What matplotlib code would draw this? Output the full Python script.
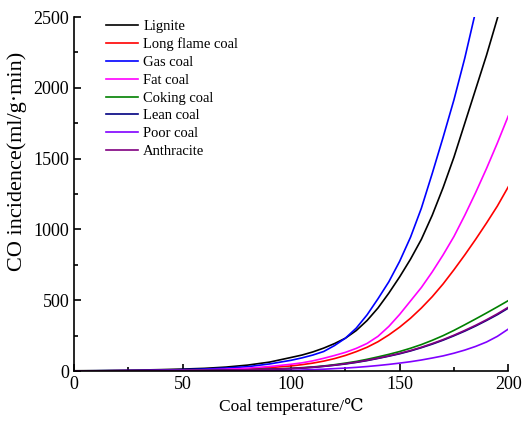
# CO incidence of eight coal ranks vs coal temperature
import matplotlib.pyplot as plt
from matplotlib.ticker import MultipleLocator

plt.rcParams['font.family'] = ['Liberation Serif', 'DejaVu Serif']

# temperature steps: every 10 up to 100, then every 5
temp = [0, 10, 20, 30, 40, 50, 60, 70, 80, 90,
        100, 105, 110, 115, 120, 125, 130, 135, 140, 145, 150,
        155, 160, 165, 170, 175, 180, 185, 190, 195, 200]

lignite = [2, 3, 5, 7, 10, 14, 19, 28, 42, 63,
           96, 113, 135, 162, 194, 232, 286, 357, 445, 550, 665,
           790, 930, 1100, 1295, 1510, 1750, 1990, 2230, 2490, 2760]
long_flame = [1, 1, 2, 2, 3, 5, 7, 11, 16, 24,
              36, 45, 56, 70, 88, 110, 137, 168, 207, 255, 310,
              373, 445, 525, 615, 715, 820, 930, 1045, 1165, 1300]
gas = [1, 2, 3, 4, 6, 10, 14, 21, 31, 50,
       76, 93, 113, 138, 180, 232, 303, 397, 510, 630, 775,
       945, 1150, 1395, 1650, 1915, 2210, 2540, 2900, 3270, 3700]
fat = [1, 1, 2, 3, 4, 6, 9, 13, 20, 32,
       48, 58, 72, 90, 110, 132, 160, 195, 245, 315, 400,
       495, 590, 700, 820, 950, 1100, 1260, 1430, 1610, 1800]
coking = [1, 1, 1, 2, 2, 3, 4, 6, 9, 13,
          19, 24, 29, 36, 45, 56, 68, 83, 100, 118, 138,
          161, 187, 217, 250, 287, 327, 368, 410, 453, 497]
lean = [1, 1, 1, 2, 2, 3, 4, 6, 8, 12,
        17, 21, 26, 33, 41, 50, 61, 74, 89, 105, 122,
        142, 165, 190, 218, 249, 282, 318, 357, 398, 444]
poor = [0, 0, 0, 1, 1, 1, 2, 2, 3, 4,
        5, 7, 10, 13, 17, 21, 26, 32, 39, 47, 56,
        66, 78, 92, 107, 126, 148, 174, 205, 245, 296]
anthracite = [1, 1, 1, 2, 2, 3, 4, 6, 9, 12,
              18, 22, 27, 34, 42, 52, 63, 76, 91, 107, 125,
              145, 168, 194, 222, 253, 287, 323, 362, 404, 450]

series = [('Lignite', lignite, 'black'),
          ('Long flame coal', long_flame, 'red'),
          ('Gas coal', gas, 'blue'),
          ('Fat coal', fat, 'magenta'),
          ('Coking coal', coking, 'green'),
          ('Lean coal', lean, 'navy'),
          ('Poor coal', poor, '#8000ff'),
          ('Anthracite', anthracite, 'purple')]

fig = plt.figure(figsize=(5.25, 4.26), dpi=100)
ax = fig.add_axes([0.141, 0.129, 0.827, 0.831])

for name, vals, col in series:
    ax.plot(temp, vals, color=col, lw=1.2, label=name)

ax.set_xlim(0, 200)
ax.set_ylim(0, 2500)
ax.xaxis.set_major_locator(MultipleLocator(50))
ax.xaxis.set_minor_locator(MultipleLocator(25))
ax.yaxis.set_major_locator(MultipleLocator(500))
ax.yaxis.set_minor_locator(MultipleLocator(250))
ax.tick_params(which='both', direction='in', labelsize=13, width=1.2)
ax.tick_params(which='major', length=5)
ax.tick_params(which='minor', length=3)
ax.spines['top'].set_visible(False)
ax.spines['right'].set_visible(False)
ax.spines['left'].set_linewidth(1.2)
ax.spines['bottom'].set_linewidth(1.2)

ax.set_xlabel('Coal temperature/\u2103', fontsize=12.5, labelpad=4)
ax.set_ylabel('CO incidence(ml/g\u00b7min)', fontsize=16)
ax.yaxis.set_label_coords(-0.108, 0.593)

ax.legend(loc='upper left', frameon=False, fontsize=10.5, handlelength=2.2,
          handletextpad=0.35, labelspacing=0.31, borderpad=0.2,
          borderaxespad=0, bbox_to_anchor=(0.067, 1.0))

plt.savefig('out.png', dpi=100)
